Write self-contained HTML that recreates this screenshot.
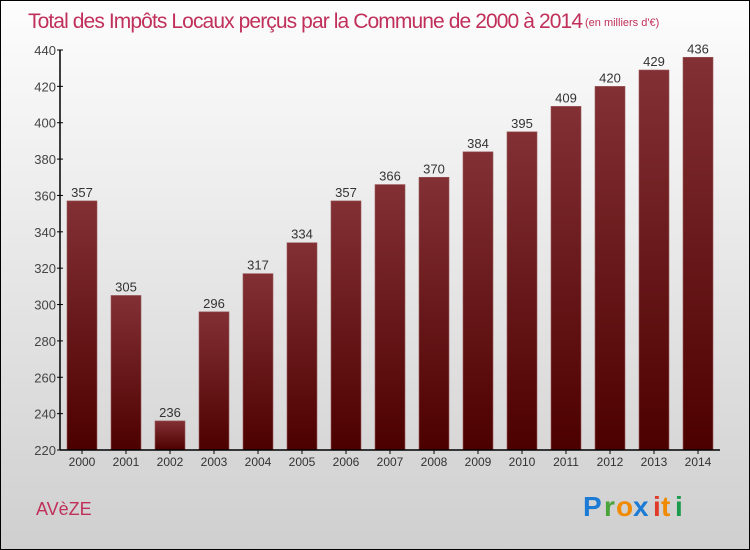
<!DOCTYPE html>
<html><head><meta charset="utf-8"><style>
body{margin:0;}
svg{display:block;font-family:"Liberation Sans","DejaVu Sans",sans-serif;}
</style></head><body>
<svg id="c" width="750" height="550">
<defs>
<linearGradient id="bg" x1="0" y1="0" x2="0" y2="1"><stop offset="0" stop-color="#fdfdfd"/><stop offset="1" stop-color="#cfcfcf"/></linearGradient>
<linearGradient id="bar" x1="0" y1="0" x2="0" y2="1"><stop offset="0" stop-color="#833034"/><stop offset="1" stop-color="#4d0000"/></linearGradient>
</defs>
<rect x="0.5" y="0.5" width="749" height="549" fill="url(#bg)" stroke="#000"/>
<text x="28" y="28" font-size="21" fill="#c0305a" textLength="555">Total des Impôts Locaux perçus par la Commune de 2000 à 2014</text>
<text x="585" y="26" font-size="11" fill="#c0305a">(en milliers d'€)</text>
<text x="36" y="515" font-size="18" fill="#c0305a">AVèZE</text>
<g font-size="28" font-weight="bold" font-family="'Liberation Sans',sans-serif">
<text x="583" y="516" fill="#1c7bd4">P</text><text x="604" y="516" fill="#4aa43a">r</text><text x="616" y="516" fill="#f08a00">o</text><text x="633" y="516" fill="#1c7bd4">x</text><text x="653" y="516" fill="#e03a2a">i</text><text x="661" y="516" fill="#f08a00">t</text><text x="675" y="516" fill="#1a9a4a">i</text>
</g>
<g id="plot"></g>
</svg>
<script>
const years=["2000","2001","2002","2003","2004","2005","2006","2007","2008","2009","2010","2011","2012","2013","2014"];
const values=[357,305,236,296,317,334,357,366,370,384,395,409,420,429,436];
const yTicks=[220,240,260,280,300,320,340,360,380,400,420,440];
const NS="http://www.w3.org/2000/svg";
const g=document.getElementById('plot');
const x0=60,x1=720,yTop=50,yBot=450,vMin=220,vMax=440;
const y=v=>yBot-(v-vMin)/(vMax-vMin)*(yBot-yTop);
const slot=(x1-x0)/years.length;
const xc=i=>x0+slot*(i+0.5);
function mk(t,a){const e=document.createElementNS(NS,t);for(const k in a)e.setAttribute(k,a[k]);g.appendChild(e);return e;}
yTicks.forEach(v=>{
 const tk=mk('line',{x1:x0-3,x2:x0+3,y1:y(v),y2:y(v),stroke:'#000'});
 
 
 const t=mk('text',{x:x0-4,y:y(v)+5,'text-anchor':'end','font-size':13,fill:'#444'});
 t.textContent=v;
 
 
});
values.forEach((v,i)=>{
 const r=mk('rect',{x:xc(i)-15,y:y(v),width:30,height:yBot-y(v),fill:'url(#bar)',stroke:'#9a5a5c','stroke-width':0.6});
 
 
 const t=mk('text',{x:xc(i),y:y(v)-4,'text-anchor':'middle','font-size':13,fill:'#333'});
 t.textContent=v;
 
 
 const tk=mk('line',{x1:xc(i),x2:xc(i),y1:yBot,y2:yBot+4,stroke:'#000'});
 
 
 const xl=mk('text',{x:xc(i),y:yBot+16,'text-anchor':'middle','font-size':12,fill:'#333'});
 xl.textContent=years[i];
 
 
});
const ya=mk('line',{x1:x0,x2:x0,y1:yTop,y2:yBot,stroke:'#000','stroke-width':1.5});


const xa=mk('line',{x1:x0,x2:x1,y1:yBot,y2:yBot,stroke:'#000','stroke-width':1.5});


</script>
</body></html>
